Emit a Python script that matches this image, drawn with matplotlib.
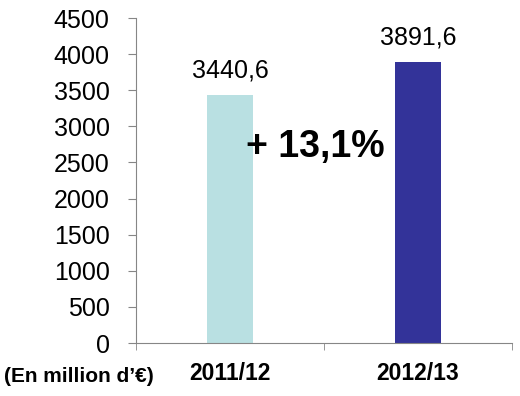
import matplotlib
matplotlib.use("Agg")
import matplotlib.pyplot as plt

plt.rcParams['font.family'] = ['Liberation Sans', 'DejaVu Sans']

periods = ["2011/12", "2012/13"]
revenue = [3440.6, 3891.6]
bar_colors = ["#B9E0E2", "#333399"]
y_ticks = list(range(0, 4501, 500))

fig = plt.figure(figsize=(5.2, 3.96), dpi=100)
ax = fig.add_axes([0.2615, 0.1338, 0.723, 0.8207])

x = range(len(periods))
bars = ax.bar(x, revenue, width=0.245, color=bar_colors)

# valeurs au-dessus des barres, virgule décimale
for b, v in zip(bars, revenue):
    ax.text(b.get_x() + b.get_width() / 2, v + 170, f"{v:.1f}".replace(".", ","),
            ha="center", va="bottom", fontsize=18)

growth = (revenue[1] / revenue[0] - 1) * 100
ax.text(0.452, 2714, "+ " + f"{growth:.1f}".replace(".", ",") + "%",
        ha="center", va="center", fontsize=27, fontweight="bold")

ax.set_xlim(-0.5, 1.5)
ax.set_ylim(0, 4500)
ax.set_yticks(y_ticks)
ax.tick_params(axis="y", labelsize=18, length=6, color="#868686", pad=13)

ax.set_xticks([0, 1])
ax.set_xticklabels(periods, fontsize=16.5, fontweight="bold")
ax.set_xticks([-0.5, 0.5, 1.5], minor=True)
ax.tick_params(axis="x", which="major", length=0, pad=14)
ax.tick_params(axis="x", which="minor", length=5, color="#868686")

for s in ["top", "right"]:
    ax.spines[s].set_visible(False)
for s in ["left", "bottom"]:
    ax.spines[s].set_color("#868686")

fig.text(0.152, 1 - 377 / 396, "(En million d\u2019\u20ac)", ha="center", va="center",
         fontsize=15, fontweight="bold")

plt.savefig("out.png", dpi=100)
plt.close("all")
